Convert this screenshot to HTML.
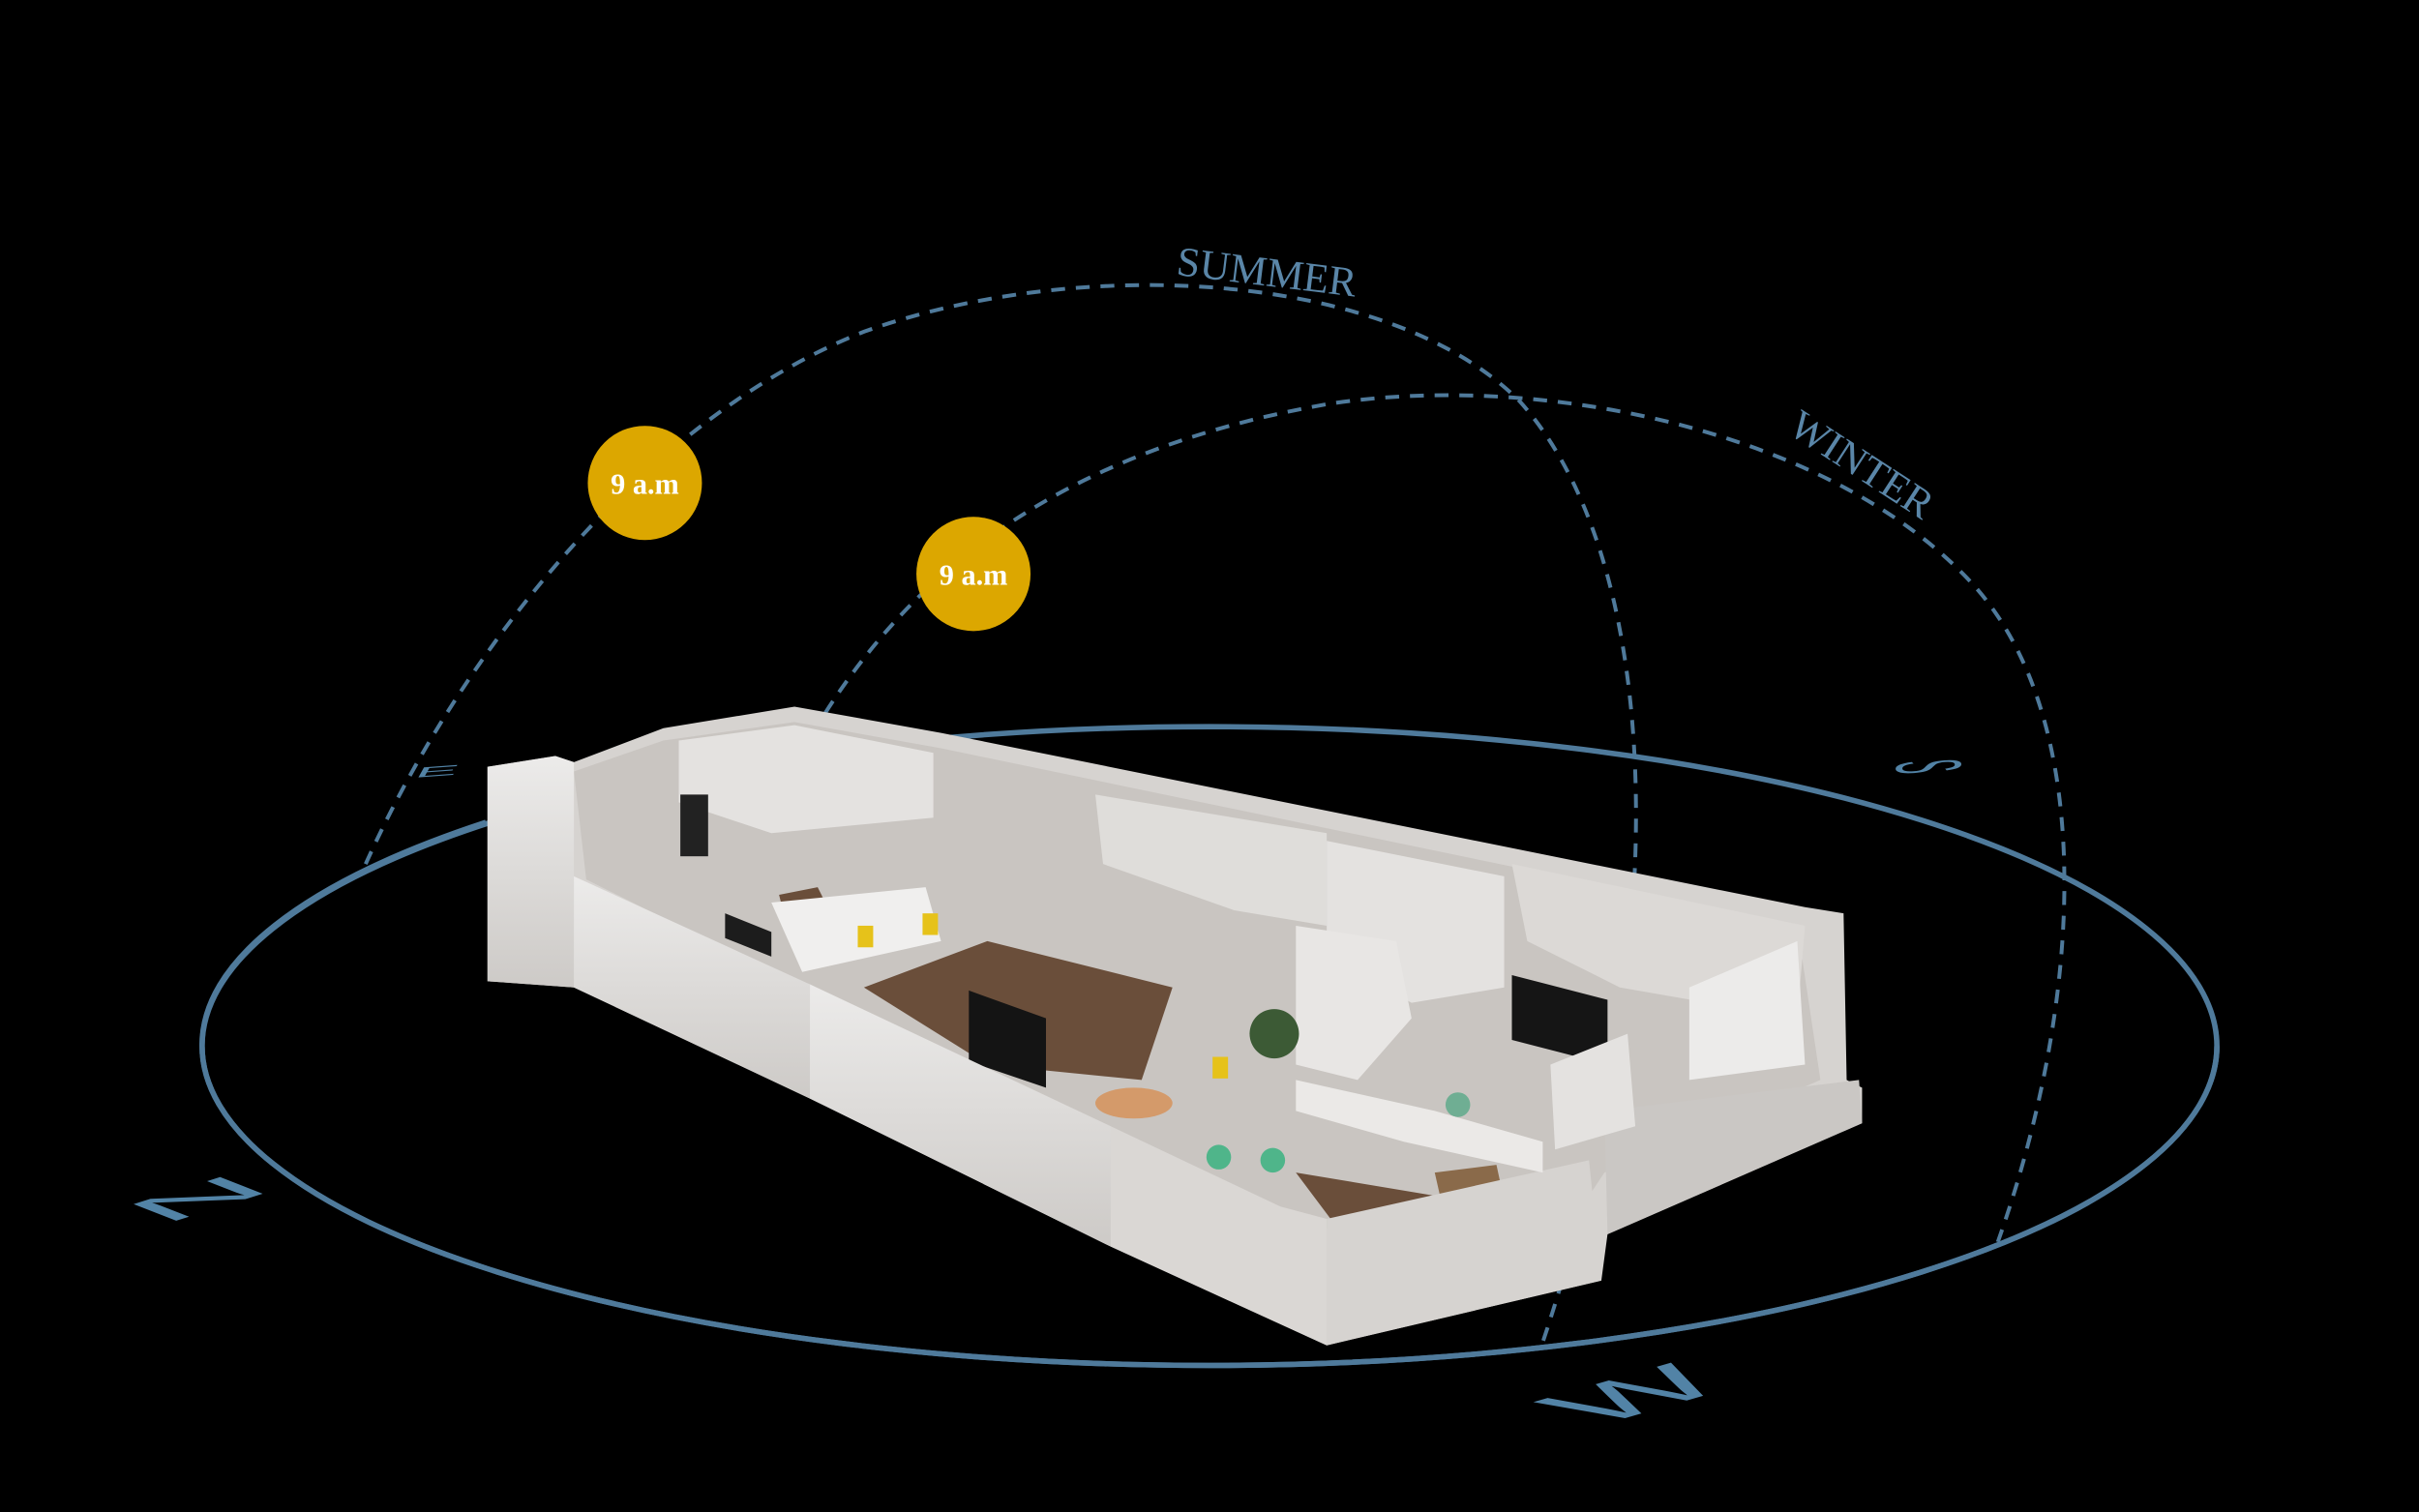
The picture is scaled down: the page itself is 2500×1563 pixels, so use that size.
<!DOCTYPE html>
<html><head><meta charset="utf-8"><style>
html,body{margin:0;padding:0;background:#000;width:2500px;height:1563px;overflow:hidden}
svg{display:block;position:absolute;left:0;top:0}
</style></head><body>
<svg width="2500" height="1563" viewBox="0 0 1568 980" preserveAspectRatio="none" xmlns="http://www.w3.org/2000/svg">
<rect width="1568" height="980" fill="#000"/>
<defs>
<linearGradient id="fw" x1="0" y1="0" x2="0" y2="1"><stop offset="0" stop-color="#ecebea"/><stop offset="1" stop-color="#cdcac7"/></linearGradient>
</defs>
<ellipse cx="784" cy="678" rx="653" ry="207" fill="none" stroke="#4f7a9b" stroke-width="3.5"/>
<path d="M237,560 C300,420 420,270 560,215 C700,165 900,175 985,260 C1075,360 1090,600 1000,870" fill="none" stroke="#4f7a9b" stroke-width="2.5" stroke-dasharray="9,7"/>
<path d="M535,462 C600,360 700,290 860,262 C1000,240 1190,280 1280,380 C1360,470 1350,650 1295,805" fill="none" stroke="#4f7a9b" stroke-width="2.5" stroke-dasharray="9,7"/>
<text transform="translate(762,178) rotate(7)" font-family="Liberation Serif, serif" font-size="27" fill="#5a86a8">SUMMER</text>
<text transform="translate(1158,280) rotate(33)" font-family="Liberation Serif, serif" font-size="27" fill="#5a86a8">WINTER</text>
<circle cx="418" cy="313" r="37" fill="#dca700"/>
<text x="418" y="320" text-anchor="middle" font-family="Liberation Serif, serif" font-weight="bold" font-size="19" fill="#fff">9 a.m</text>
<circle cx="631" cy="372" r="37" fill="#dca700"/>
<text x="631" y="379" text-anchor="middle" font-family="Liberation Serif, serif" font-weight="bold" font-size="19" fill="#fff">9 a.m</text>
<!-- building -->
<polygon points="316,497 360,490 372,494 430,472 515,458 610,475 1170,588 1195,592 1197,700 1207,705 1207,728 1042,800 1038,830 860,872 720,808 525,712 372,640 316,636" fill="#d6d3d0"/>
<polygon points="372,500 430,480 515,468 610,485 1165,600 1180,700 1040,760 1020,790 870,800 720,740 380,570" fill="#c9c5c1"/>
<polygon points="560,640 640,610 760,640 740,700 640,690" fill="#6a4e3a"/>
<polygon points="840,760 960,780 1010,760 1025,782 870,800" fill="#6a4e3a"/>
<polygon points="505,580 530,575 540,595 510,600" fill="#6a4e3a"/>
<polygon points="440,480 515,470 605,488 605,530 500,540 440,520" fill="#e4e2e0"/>
<polygon points="710,515 860,540 860,600 800,590 715,560" fill="#dfddda"/>
<polygon points="860,545 975,568 975,640 915,650 860,620" fill="#e4e2e0"/>
<polygon points="980,560 1170,600 1165,660 1050,640 990,610" fill="#dcd9d6"/>
<polygon points="840,600 905,610 915,660 880,700 840,690" fill="#e8e6e4"/>
<polygon points="500,585 600,575 610,610 520,630" fill="#f0efee"/>
<rect x="441" y="515" width="18" height="40" fill="#222"/>
<polygon points="628,642 678,660 678,705 628,688" fill="#141414"/>
<polygon points="980,632 1042,648 1042,690 980,674" fill="#151515"/>
<polygon points="470,592 500,604 500,620 470,608" fill="#1c1c1c"/>
<rect x="556" y="600" width="10" height="14" fill="#e6c21a"/>
<rect x="598" y="592" width="10" height="14" fill="#e6c21a"/>
<rect x="786" y="685" width="10" height="14" fill="#e6c21a"/>
<circle cx="826" cy="670" r="16" fill="#3c5a35"/>
<circle cx="790" cy="750" r="8" fill="#4fb58a"/><circle cx="825" cy="752" r="8" fill="#4fb58a"/>
<circle cx="945" cy="716" r="8" fill="#6fae93"/>
<ellipse cx="735" cy="715" rx="25" ry="10" fill="#d49a6a"/>
<polygon points="930,760 970,755 975,778 935,782" fill="#8a6a4a"/>
<polygon points="316,497 360,490 372,494 372,640 316,636" fill="url(#fw)"/>
<polygon points="372,568 525,638 525,712 372,640" fill="url(#fw)"/>
<polygon points="525,638 720,730 720,808 525,712" fill="url(#fw)"/>
<polygon points="720,730 830,782 860,790 860,872 720,808" fill="#dad7d4"/>
<polygon points="860,790 1030,752 1038,830 860,872" fill="#d6d3d0"/>
<polygon points="840,700 930,720 1000,740 1000,760 910,740 840,720" fill="#ebe9e7"/>
<polygon points="1040,720 1205,700 1207,728 1042,800" fill="#cac7c4"/>
<polygon points="1095,640 1165,610 1170,690 1095,700" fill="#ecebea"/>
<polygon points="1005,690 1055,670 1060,730 1008,745" fill="#e4e2e0"/>
<path d="M131,678 A653,207 0 0 0 1437,678" fill="none" stroke="#4f7a9b" stroke-width="3.5"/>
<path d="M315,533 A653,207 0 0 0 131,678" fill="none" stroke="#4f7a9b" stroke-width="3.5"/>
</svg>
<svg width="2500" height="1563" viewBox="0 0 2500 1563" xmlns="http://www.w3.org/2000/svg">
<g font-family="Liberation Sans, sans-serif" font-size="100" fill="#5283a6">
<text transform="matrix(1.6,-0.5,0.64,0.25,169,1266)">N</text>
<text transform="matrix(1.52,-0.435,0.93,0.37,1648,1475)">W</text>
<text transform="matrix(1.1,-0.08,-0.14,0.25,427,804)" font-size="60">E</text>
<text transform="matrix(0,0.2,-0.96,0.07,1960,788)">S</text>
</g>
</svg>
</body></html>
